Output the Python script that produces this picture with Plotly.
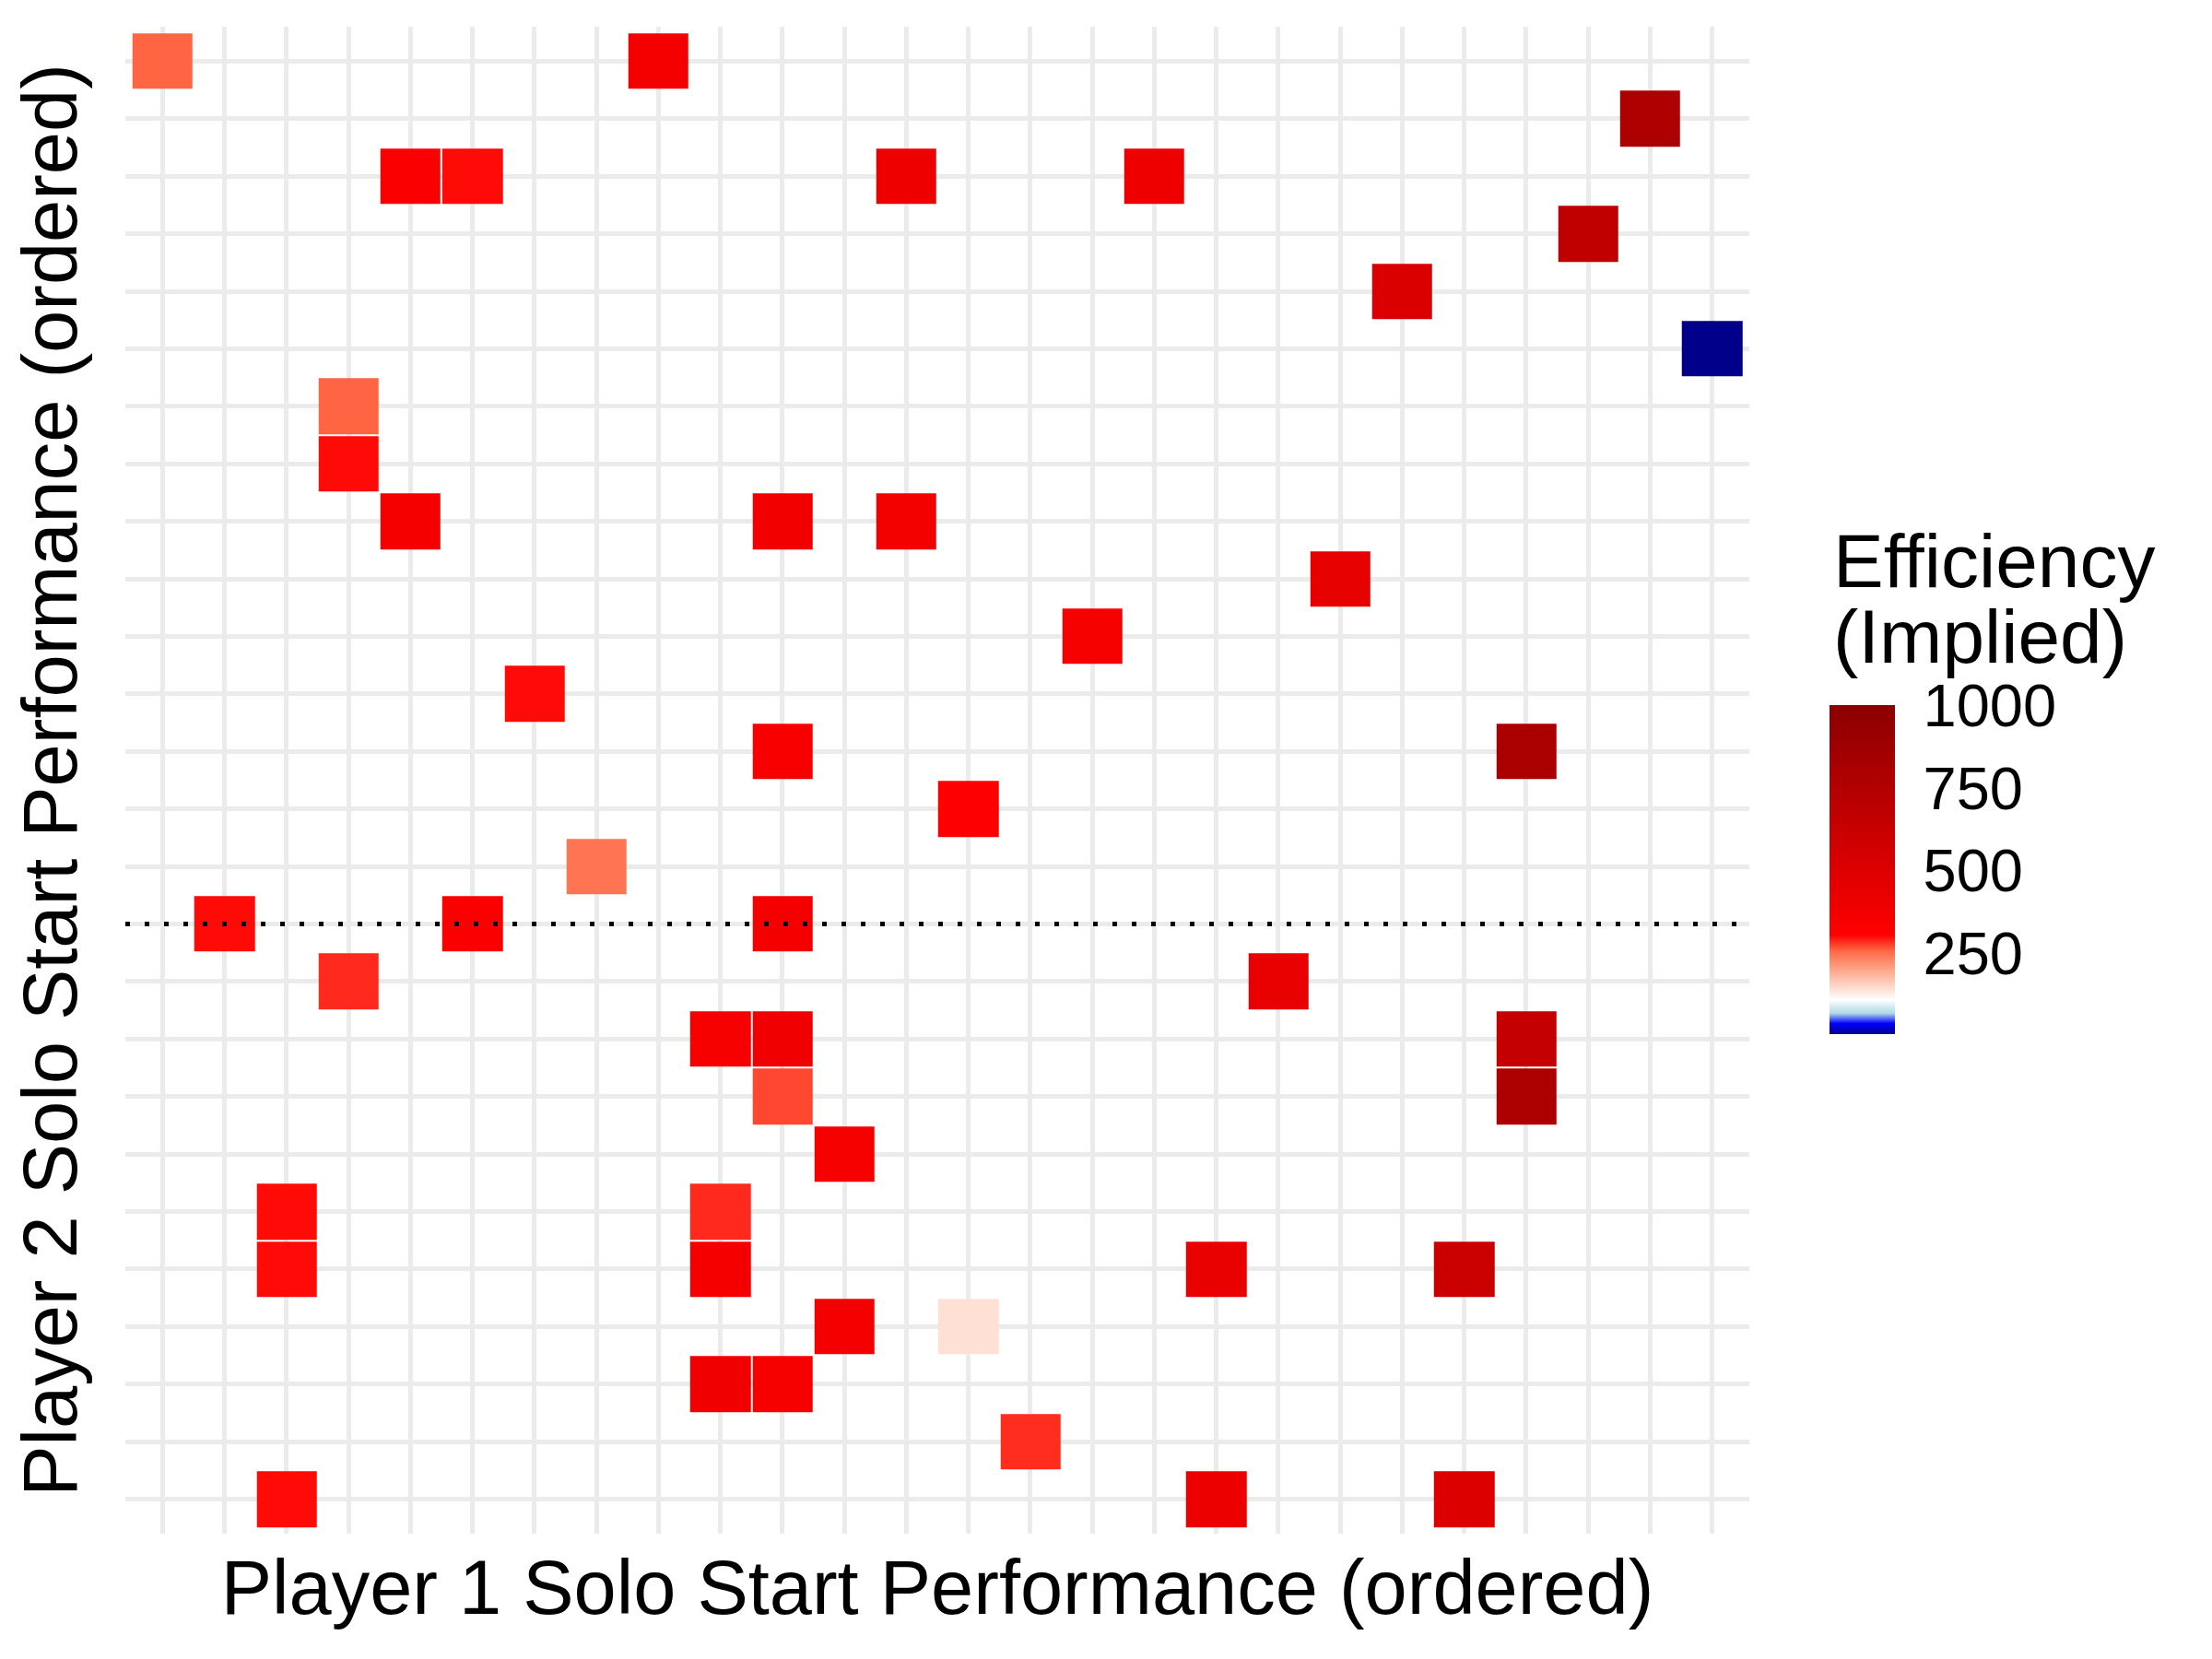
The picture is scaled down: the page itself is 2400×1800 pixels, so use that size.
import numpy as np
import plotly.graph_objects as go

# tiles: player 1 rank (x), player 2 rank (y), implied efficiency
p1_rank = [1, 9, 25, 5, 6, 13, 17, 24, 21, 26, 4, 4, 5, 11, 13, 20, 16, 7,
           11, 23, 14, 8, 2, 6, 11, 4, 19, 10, 11, 23, 11, 23, 12, 3, 10,
           3, 10, 18, 22, 12, 14, 10, 11, 15, 3, 18, 22]
p2_rank = [26, 26, 25, 24, 24, 24, 24, 23, 22, 21, 20, 19, 18, 18, 18, 17, 16, 15,
           14, 14, 13, 12, 11, 11, 11, 10, 10, 9, 9, 9, 8, 8, 7, 6, 6,
           5, 5, 5, 5, 4, 4, 3, 3, 2, 1, 1, 1]
efficiency = [258, 365, 786, 335, 300, 395, 395, 672, 515, 4, 258, 300, 365, 383, 377, 443, 353, 300,
              347, 810, 317, 245, 300, 335, 365, 285, 431, 353, 389, 647, 272, 798, 353, 300, 285,
              300, 365, 431, 612, 365, 140, 389, 353, 284, 300, 408, 509]

n_ranks = 26
threshold_row = 11
cbar_ticks = [250, 500, 750, 1000]
z_min, z_max = 4, 1002

ranks = list(range(1, n_ranks + 1))
z = np.full((n_ranks, n_ranks), np.nan)
for xi, yi, v in zip(p1_rank, p2_rank, efficiency):
    z[yi - 1, xi - 1] = v

def pos(v):
    return (v - z_min) / (z_max - z_min)

# blue -> white -> red -> darkred, with extra stops so the white->red leg
# follows a Lab-like path (more orange salmon than plain RGB mixing)
colorscale = [
    [0.0, "#00008B"],
    [pos(36), "#0000FF"],
    [pos(67), "#ADD8E6"],
    [pos(108), "#FFFFFF"],
    [pos(157), "#FFCFBE"],
    [pos(206), "#FF9E81"],
    [pos(256), "#FF6846"],
    [pos(305), "#FF0000"],
    [pos(653), "#C30000"],
    [1.0, "#8B0000"],
]

FONT = "Liberation Sans, Arial, Helvetica, sans-serif"

fig = go.Figure()
fig.add_trace(go.Heatmap(
    x=ranks, y=ranks, z=z,
    zmin=z_min, zmax=z_max,
    colorscale=colorscale,
    xgap=2, ygap=2,
    hoverongaps=False,
    colorbar=dict(
        x=1.0494, xanchor="left", xpad=0,
        y=0.4407, yanchor="middle", ypad=0,
        len=357, lenmode="pixels",
        thickness=71, thicknessmode="pixels",
        outlinewidth=0,
        tickvals=cbar_ticks,
        ticks="outside", ticklen=18, tickcolor="rgba(0,0,0,0)",
        tickfont=dict(size=65, color="black", family=FONT),
        title=dict(text=""),
    ),
))

fig.add_shape(type="line", xref="paper", x0=0, x1=1, yref="y",
              y0=threshold_row, y1=threshold_row,
              line=dict(color="black", width=5, dash="5px,16px"))

fig.add_annotation(text="Efficiency", xref="paper", yref="paper",
                   x=1.0505, y=0.6455, xanchor="left", yanchor="middle",
                   showarrow=False, font=dict(size=82, color="black", family=FONT))
fig.add_annotation(text="(Implied)", xref="paper", yref="paper",
                   x=1.0505, y=0.5956, xanchor="left", yanchor="middle",
                   showarrow=False, font=dict(size=82, color="black", family=FONT))

axis_common = dict(
    tickvals=ranks, showticklabels=False, ticks="",
    showgrid=True, gridcolor="#EBEBEB", gridwidth=5,
    zeroline=False, showline=False, automargin=False,
)
fig.update_xaxes(range=[0.4, n_ranks + 0.6], **axis_common,
                 title=dict(text="Player 1 Solo Start Performance (ordered)",
                            font=dict(size=83, color="black", family=FONT), standoff=28))
fig.update_yaxes(range=[0.4, n_ranks + 0.6], **axis_common,
                 title=dict(text="Player 2 Solo Start Performance (ordered)",
                            font=dict(size=83, color="black", family=FONT), standoff=50))

fig.update_layout(
    width=2400, height=1800,
    margin=dict(l=128, r=510, t=21, b=144),
    plot_bgcolor="white", paper_bgcolor="white",
    font=dict(family=FONT, color="black"),
    showlegend=False,
)

fig.write_html("out.html")
